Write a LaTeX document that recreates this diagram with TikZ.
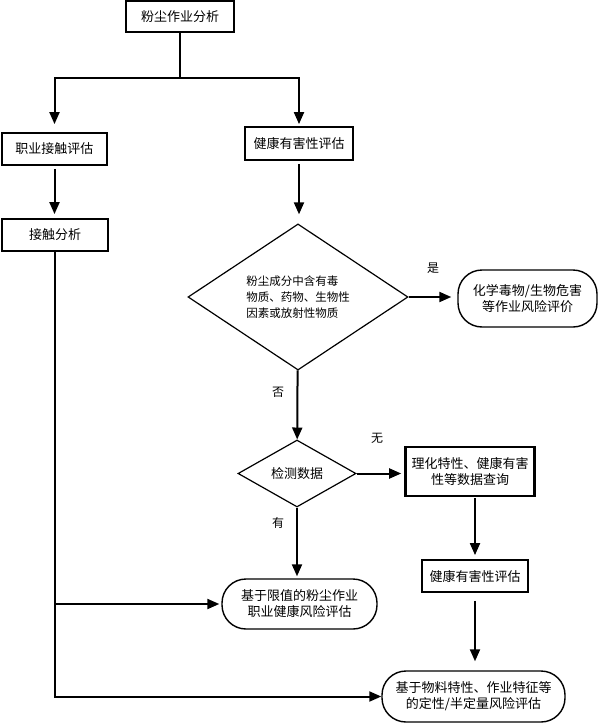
\documentclass[tikz,border=0pt]{standalone}
\usepackage{fontspec}
\newfontfamily\cjk{Noto Sans CJK SC}
\usetikzlibrary{arrows.meta,
                shapes.geometric}

\begin{document}
\begin{tikzpicture}[x=1pt, y=-1pt,
every node/.style = {font=\cjk\fontsize{13}{16}\selectfont, inner sep=0pt},
box/.style   = {draw, line width=1.8pt, align=center},
term/.style  = {draw, line width=1.4pt, rounded corners=24pt, align=center},
dec/.style   = {draw, diamond, line width=1.2pt, align=center},
flow/.style  = {draw, line width=2pt, -{Triangle[length=12pt,width=10pt]}},
lbl/.style   = {font=\cjk\fontsize{12}{14}\selectfont}
                    ]
\useasboundingbox (0,0) rectangle (599,725);
% boxes
\node[box, minimum width=108, minimum height=31] (top) at (180,16.5) {粉尘作业分析};
\node[box, minimum width=105, minimum height=32] (occ) at (54.5,149) {职业接触评估};
\node[box, minimum width=108, minimum height=33] (haz) at (299,143.5) {健康有害性评估};
\node[box, minimum width=106, minimum height=32] (expo) at (55,235) {接触分析};
\node[dec, minimum width=220, minimum height=119, font=\cjk\fontsize{11.5}{16}\selectfont, align=left]
        (risk) at (298,297) {粉尘成分中含有毒\\物质、药物、生物性\\因素或放射性物质};
\node[term, minimum width=139, minimum height=57] (chem) at (527.5,298.5)
        {化学毒物/生物危害\\等作业风险评价};
\node[dec, minimum width=118, minimum height=67] (data) at (297,473.5) {检测数据};
\node[box, line width=2.6pt, minimum width=129, minimum height=49] (query) at (470,471.5)
        {理化特性、健康有害\\性等数据查询};
\node[box, minimum width=106, minimum height=32] (haz2) at (475,576) {健康有害性评估};
\node[term, minimum width=155, minimum height=50] (limit) at (299.5,604)
        {基于限值的粉尘作业\\职业健康风险评估};
\node[term, minimum width=183, minimum height=51] (semi) at (473.5,696.5)
        {基于物料特性、作业特征等\\的定性/半定量风险评估};
\coordinate (split) at (180,78);
%
\draw[line width=2pt] (top) -- (split);
\draw[flow, shorten >=8pt] (split) -| (occ);
\draw[flow, shorten >=2pt] (split) -| (haz);
\draw[flow, shorten <=3pt, shorten >=4pt] (occ) -- (occ |- expo.north);
\draw[flow, shorten <=3pt, shorten >=9pt] (haz) -- (haz |- risk.north);
\draw[flow, shorten >=6pt] (risk.east) -- (risk.east -| chem.west);
\draw[flow] (risk) -- (data);
\draw[flow, shorten >=3pt] (data.east) -- (data.east -| query.west);
\draw[flow, shorten <=1pt, shorten >=4pt] (haz2 |- query.south) -- (haz2);
\draw[flow, shorten <=8pt, shorten >=9pt] (haz2) -- (haz2 |- semi.north);
\draw[flow, shorten >=2pt] (data) -- (data |- limit.north);
\draw[flow] (expo) |- (semi);
\draw[flow, shorten >=2pt] (expo |- limit) -- (limit);
% labels
\node[lbl] (yes) at (433,268) {是};
\node[lbl] (no) at (278,392) {否};
\node[lbl] (none) at (377,438) {无};
\node[lbl] (have) at (278,523) {有};
\end{tikzpicture}
\end{document}
